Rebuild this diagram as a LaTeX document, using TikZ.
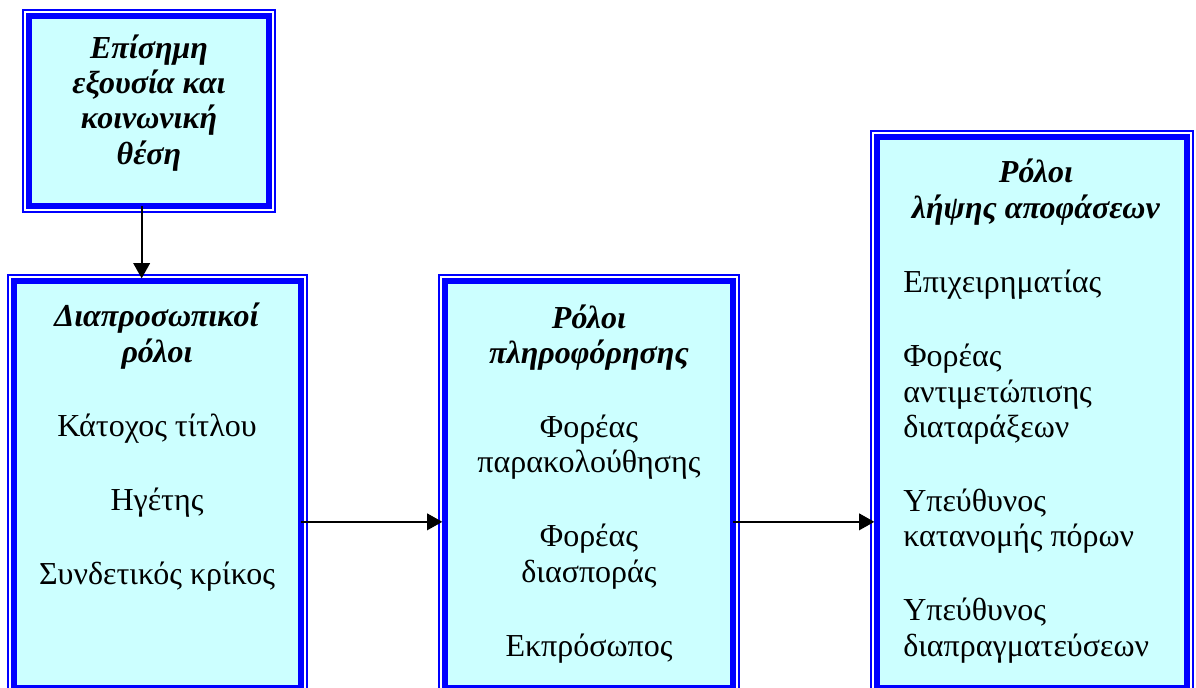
\documentclass[tikz,border=0pt]{standalone}
\usepackage{fontspec}
\setmainfont{Liberation Serif}
\usetikzlibrary{arrows.meta, positioning}

\definecolor{boxblue}{RGB}{0,0,255}
\definecolor{boxfill}{RGB}{204,255,255}
\newcommand{\rolehead}[1]{\textbf{\textit{#1}}}

\begin{document}
\begin{tikzpicture}[
    x=0.75pt,
    y=-0.75pt,
    rolebox/.style={
        rectangle,
        draw=boxblue,
        fill=boxfill,
        line width=4.9pt,
        outer sep=0pt,
        inner sep=0pt
    },
    frame/.style={
        draw=boxblue,
        line width=1.1pt
    },
    roletext/.style={
        align=center,
        inner sep=0pt,
        font=\fontsize{24pt}{26.5pt}\selectfont
    },
    arrow/.style={
        -{Triangle[length=11.5pt, width=12.5pt]},
        line width=1.4pt
    }
]
\useasboundingbox (0,0) rectangle (1196,687);

% Boxes
\node[rolebox, minimum width=180pt, minimum height=142.5pt] (authority) at (149,111) {};
\node[rolebox, minimum width=215.25pt, minimum height=305.25pt] (interpersonal) at (157.5,484.5) {};
\node[rolebox, minimum width=216pt, minimum height=305.25pt] (information) at (589,484.5) {};
\node[rolebox, minimum width=232.5pt, minimum height=413.25pt] (decision) at (1032,412.5) {};

% Outer frames
\foreach \b in {authority, interpersonal, information, decision}
    \draw[frame] ([shift={(-4.5pt,4.5pt)}]\b.north west) rectangle ([shift={(4.5pt,-4.5pt)}]\b.south east);

% Texts (placed by the baseline of their last line)
\node[roletext, anchor=base] (authority-text) at (149,164)
    {\rolehead{Επίσημη}\\ \rolehead{εξουσία και}\\ \rolehead{κοινωνική}\\ \rolehead{θέση}};
\node[roletext, anchor=base] (interpersonal-text) at (157,584)
    {\rolehead{Διαπροσωπικοί}\\ \rolehead{ρόλοι}\\[29pt] Κάτοχος τίτλου\\[29pt] Ηγέτης\\[29pt] Συνδετικός κρίκος};
\node[roletext, anchor=base] (information-text) at (589,656)
    {\rolehead{Ρόλοι}\\ \rolehead{πληροφόρησης}\\[29pt] Φορέας\\ παρακολούθησης\\[29pt] Φορέας\\ διασποράς\\[29pt] Εκπρόσωπος};
\node[roletext, anchor=base] (decision-title) at (1036,218)
    {\rolehead{Ρόλοι}\\ \rolehead{λήψης αποφάσεων}};
\node[roletext, align=left, anchor=base west] (decision-text) at (903,656)
    {Επιχειρηματίας\\[29pt] Φορέας\\ αντιμετώπισης\\ διαταράξεων\\[29pt] Υπεύθυνος\\ κατανομής πόρων\\[29pt] Υπεύθυνος\\ διαπραγματεύσεων};

% Arrows
\draw[arrow, shorten >=2pt] ([xshift=-5.5pt]authority.south) -- ([xshift=-5.5pt]authority.south |- interpersonal.north);
\draw[arrow, shorten >=2pt] ([yshift=-28pt]interpersonal.east) -- ([yshift=-28pt]information.west);
\draw[arrow, shorten >=2pt] ([yshift=-28pt]information.east) -- ([yshift=-28pt]information.east -| decision.west);

\end{tikzpicture}
\end{document}
